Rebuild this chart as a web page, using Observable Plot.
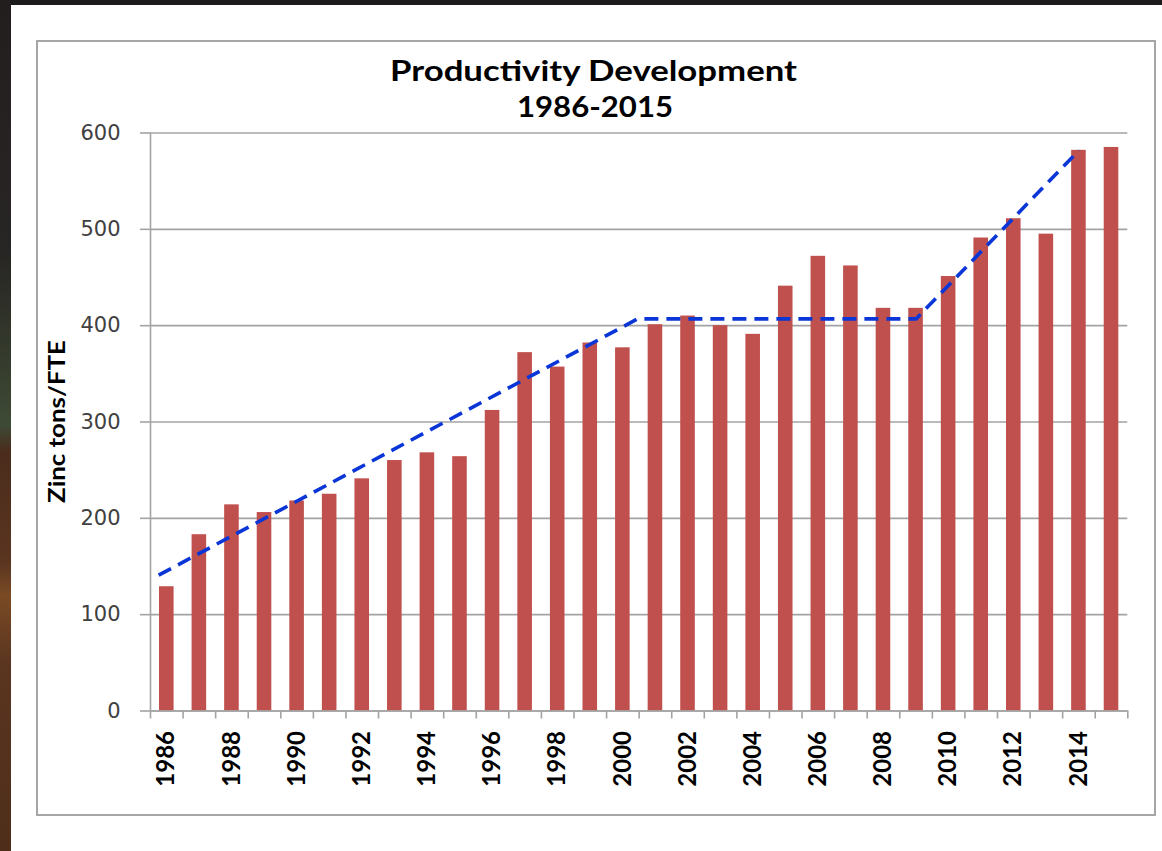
<!DOCTYPE html>
<html><head><meta charset="utf-8">
<script src="https://cdn.jsdelivr.net/npm/d3@7"></script>
<script src="https://cdn.jsdelivr.net/npm/@observablehq/plot@0.6"></script>
<style>
html,body{margin:0;padding:0;}
body{width:1162px;height:851px;position:relative;overflow:hidden;background:#1d1b1b;}
#leftstrip{position:absolute;left:0;top:0;width:11px;height:851px;background:linear-gradient(to bottom,#221e1e 0%,#282624 30%,#38402f 45%,#3e4a36 50%,#4a2c1c 53%,#5a3520 66%,#7a4a24 70%,#5a3520 78%,#4e2e1a 100%);}
#paper{position:absolute;left:11px;top:5px;width:1151px;height:846px;background:#fff;}
#frame{position:absolute;left:36px;top:40px;width:1116px;height:772px;border:2px solid #a6a6a6;}
#chart{position:absolute;left:0;top:0;}
</style></head>
<body>
<div id="leftstrip"></div><div id="paper"></div><div id="frame"></div><div id="chart"></div>
<script>
const titleLines = ["Productivity Development", "1986-2015"];
const yLabel = "Zinc tons/FTE";
const years = [1986,1987,1988,1989,1990,1991,1992,1993,1994,1995,1996,1997,1998,1999,2000,2001,2002,2003,2004,2005,2006,2007,2008,2009,2010,2011,2012,2013,2014,2015];
const values = [129,183,214,206,218,225,241,260,268,264,312,372,357,382,377,401,410,400,391,441,472,462,418,418,451,491,511,495,582,585];
const yTicks = [0,100,200,300,400,500,600];
const xLabels = [1986,1988,1990,1992,1994,1996,1998,2000,2002,2004,2006,2008,2010,2012,2014];
const trendYears = [1985.75, 2000.45, 2009, 2014];
const trendValues = [141, 407, 407, 582];

const data = years.map((year, i) => ({year, value: values[i]}));
const trend = trendYears.map((year, i) => ({year, value: trendValues[i]}));
const boundaries = d3.range(years[0] - 0.5, years[years.length - 1] + 1, 1);

const plot = Plot.plot({
  width: 1162, height: 851,
  marginLeft: 150, marginRight: 34.7, marginTop: 132.5, marginBottom: 140.5,
  style: {background: "transparent", overflow: "visible"},
  x: {type: "linear", domain: [years[0] - 0.5, years[years.length - 1] + 0.5]},
  y: {domain: [0, 600]},
  marks: [
    Plot.gridY(yTicks, {stroke: "#a3a3a3", strokeOpacity: 1, strokeWidth: 1.6}),
    Plot.rectY(data, {x1: d => d.year - 0.5, x2: d => d.year + 0.5, y: "value", insetLeft: 9, insetRight: 9, fill: "#c0504d"}),
    Plot.ruleX([years[0] - 0.5], {stroke: "#a3a3a3", strokeWidth: 1.6}),
    Plot.ruleY([0], {stroke: "#a3a3a3", strokeWidth: 1.6}),
    Plot.axisY(yTicks, {tickSize: 10, tickPadding: 20, stroke: "#a3a3a3", strokeWidth: 1.6, fill: "#404040", fontSize: 21, fontFamily: "DejaVu Sans", label: null}),
    Plot.axisX(boundaries, {tickSize: 8, tickFormat: () => "", stroke: "#a3a3a3", strokeWidth: 1.6, label: null}),
    Plot.axisX(xLabels, {tickSize: 0, tickPadding: 20, tickRotate: -90, tickFormat: d => String(d), fill: "#000", fontSize: 24, fontWeight: "bold", fontFamily: "Lato", label: null}),
    Plot.line(trend, {x: "year", y: "value", stroke: "#0a36d8", strokeWidth: 3.6, strokeDasharray: "14,8", strokeLinecap: "butt"})
  ]
});

const svg = d3.select(plot);
svg.append("text").attr("x", 593.5).attr("y", 81).attr("text-anchor", "middle")
  .attr("font-family", "Lato").attr("font-weight", "bold").attr("font-size", 28).attr("fill", "#000")
  .attr("textLength", 407).attr("lengthAdjust", "spacingAndGlyphs").text(titleLines[0]);
svg.append("text").attr("x", 595).attr("y", 117).attr("text-anchor", "middle")
  .attr("font-family", "Lato").attr("font-weight", "bold").attr("font-size", 28).attr("fill", "#000")
  .attr("textLength", 156).attr("lengthAdjust", "spacingAndGlyphs").text(titleLines[1]);
svg.append("text").attr("transform", "translate(65,421.5) rotate(-90)").attr("text-anchor", "middle")
  .attr("font-family", "Lato").attr("font-weight", "bold").attr("font-size", 22).attr("fill", "#000")
  .attr("textLength", 163).attr("lengthAdjust", "spacingAndGlyphs").text(yLabel);

document.getElementById("chart").appendChild(plot);
</script>
</body></html>
